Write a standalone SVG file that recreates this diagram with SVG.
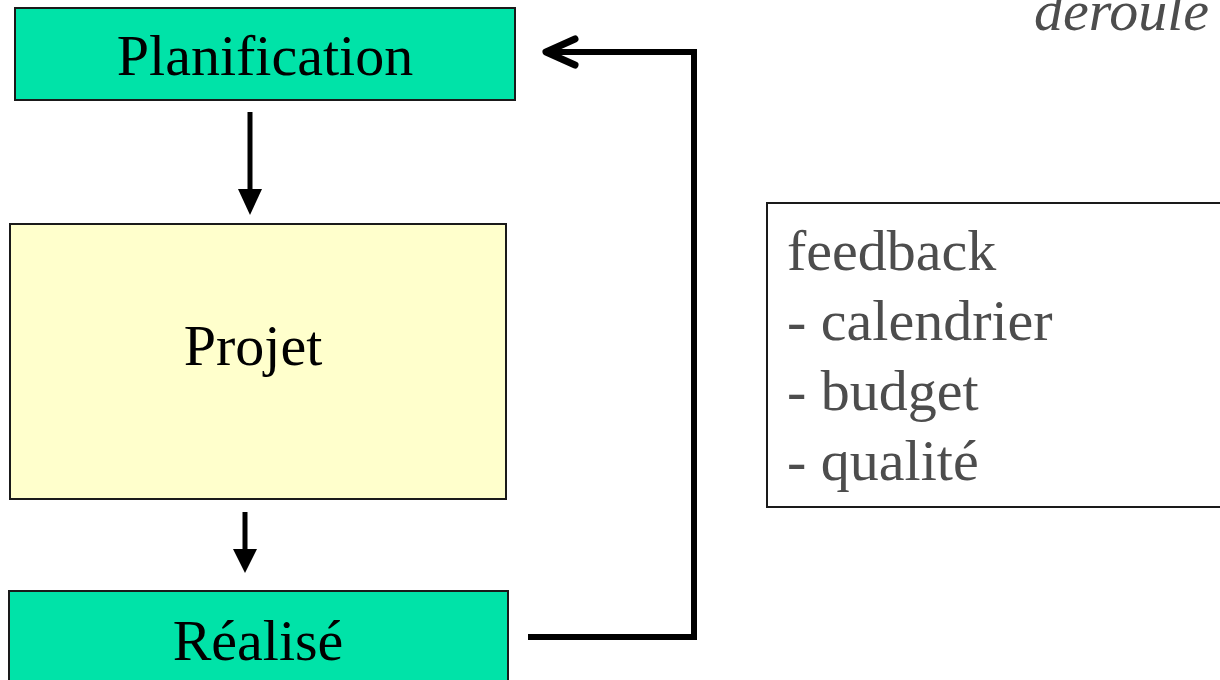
<svg xmlns="http://www.w3.org/2000/svg" width="1220" height="680" viewBox="0 0 1220 680">
  <style>
    .box { stroke: #1a1a1a; stroke-width: 2; }
    .green { fill: #00E3A8; }
    .yellow { fill: #FFFFCC; }
    .label { font-family: "Liberation Serif", "Times New Roman", serif; font-size: 58px; fill: #000; text-anchor: middle; }
    .note { font-family: "Liberation Serif", "Times New Roman", serif; font-size: 58px; fill: #4d4d4d; }
    .flow { stroke: #000; stroke-width: 5; fill: none; }
    .loop { stroke: #000; stroke-width: 6; fill: none; }
    .head { fill: #000; }
  </style>
  <rect width="1220" height="680" fill="#fff"/>

  <text class="note" x="1034" y="30" font-style="italic">deroule</text>

  <g id="planification">
    <rect class="box green" x="15" y="8" width="500" height="92"/>
    <text class="label" x="265" y="75">Planification</text>
  </g>

  <g id="projet">
    <rect class="box yellow" x="10" y="224" width="496" height="275"/>
    <text class="label" x="253" y="365">Projet</text>
  </g>

  <g id="realise">
    <rect class="box green" x="9" y="591" width="499" height="100"/>
    <text class="label" x="258" y="660">Réalisé</text>
  </g>

  <g id="feedback">
    <rect x="767" y="203" width="460" height="304" fill="#fff" stroke="#1a1a1a" stroke-width="2"/>
    <text class="note" x="787" y="270">feedback</text>
    <text class="note" x="787" y="340">- calendrier</text>
    <text class="note" x="787" y="410">- budget</text>
    <text class="note" x="787" y="480">- qualité</text>
  </g>

  <g id="connectors">
    <line class="flow" x1="250" y1="112" x2="250" y2="190"/>
    <path class="head" d="M238,189 L262,189 L250,215 Z"/>
    <line class="flow" x1="245" y1="512" x2="245" y2="550"/>
    <path class="head" d="M233,549 L257,549 L245,573 Z"/>
    <polyline class="loop" points="528,637 694,637 694,52 546,52"/>
    <polyline points="575,39 546,52 575,65" fill="none" stroke="#000" stroke-width="7" stroke-linecap="round" stroke-linejoin="round"/>
  </g>
</svg>
